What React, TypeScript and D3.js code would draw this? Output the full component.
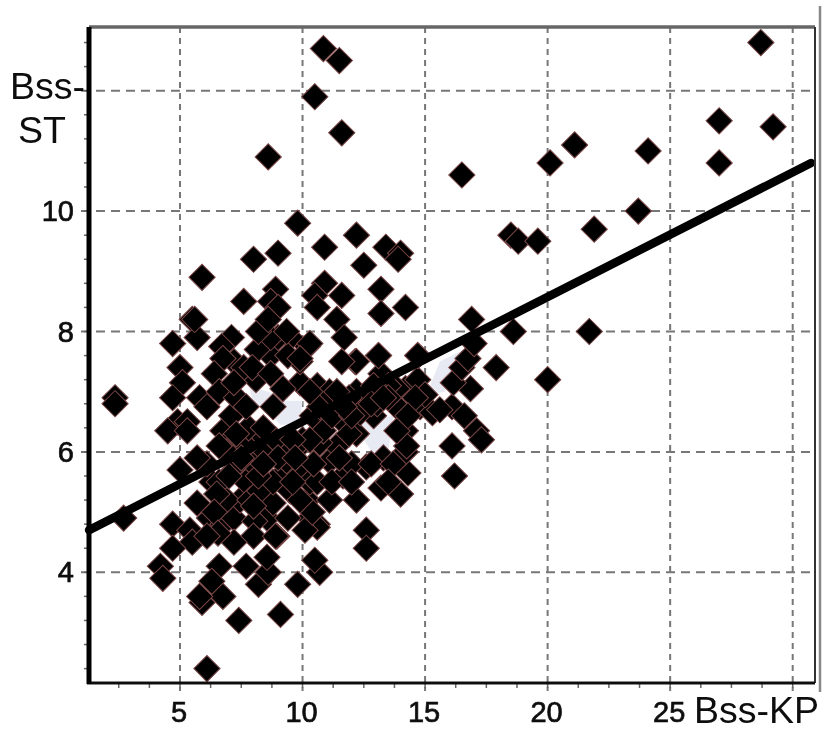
import React from "react";
import * as d3 from "d3";

const xTicks = [5, 10, 15, 20, 25, 30];
const xTickLabels = ["5", "10", "15", "20", "25"];
const yTicks = [4, 6, 8, 10, 12];
const yTickLabels = ["4", "6", "8", "10"];

const outliers: number[][] = [
  [10.85,12.7],[11.5,12.5],[10.5,11.9],[11.6,11.3],[8.6,10.9],[16.5,10.6],[20.1,10.8],[21.1,11.1],[24.1,11],
  [27,11.5],[27,10.8],[29.2,11.4],[28.7,12.8],[23.7,10],[21.9,9.7],[18.5,9.6],[18.8,9.5],[19.6,9.5],[20,7.2],
  [17.9,7.4],[21.7,8],[18.6,8],[16.9,8.2],[2.35,6.9],[2.35,6.8],[2.7,4.9],
];
const upperPoints: number[][] = [
  [9.8,9.8],[10.9,9.4],[12.2,9.6],[13.4,9.4],[14,9.3],[13.9,9.2],[12.5,9.1],[9,9.3],[8,9.2],[5.9,8.9],[13.2,8.7],
  [10.9,8.8],[10.5,8.6],[11.6,8.6],[8.9,8.7],[7.6,8.5],[14.2,8.4],[10.6,8.4],[13.2,8.3],[8.7,8.5],[11.4,8.2],
  [5.6,8.2],[9,8.4],[8.6,8.2],[11.7,7.9],[12.2,7.5],[11.6,7.5],[13.1,7.6],[14.7,7.6],[11.4,7.0],[10.3,7.0],
];
const leftPoints: number[][] = [
  [5.5,8.2],[5.7,7.9],[4.7,7.8],[5,7.4],[5.1,7.15],[4.7,6.9],[5.8,6.9],[6.1,6.75],[4.9,6.5],[5.3,6.5],[7.1,7.9],
  [6.7,7.75],[6.75,7.55],[6.4,7.3],[6.6,7],[7.3,6.9],[7.2,7.15],[8.15,7.7],[7.95,7.4],[8.7,7.9],[9.35,8],
  [10.3,7.8],[9.9,7.55],[8.7,7.3],[9.2,7.05],[8.8,6.75],[7.7,6.75],[8.2,8],[4.5,6.35],[5.3,6.35],[5.7,5.9],
  [5,5.7],[4.7,4.8],[5.4,4.7],[5.5,4.5],[4.7,4.4],[4.2,4.1],[4.3,3.9],[6.6,4.1],[6.3,3.85],[5.9,3.5],[6.1,2.4],
  [6.75,3.6],[7.4,3.2],[5.8,3.6],[7.7,4.1],[8.2,3.8],[9.1,3.3],[9.8,3.8],[10.7,4],[10.5,4.2],[8.6,4],[8.55,4.25],
  [8.9,4.6],[7.2,4.5],[6.55,4.65],[6.1,4.6],
];
const clusterPoints: number[][] = [
  [6.75,6.35],[7.2,6.25],[5.7,5.15],[6.3,5.5],[6.2,4.9],[6.75,4.8],[7.2,4.9],[7.45,5.2],[6.9,5.2],[6.6,5.5],
  [7.2,5.7],[7.7,5.5],[7.85,5.2],[8.55,4.9],[8.8,5.15],[8.25,5.35],[8.8,5.5],[9.5,5.35],[10.2,5.2],[10.3,4.9],
  [10.6,4.8],[10.6,4.75],[8.05,4.85],[8.95,4.6],[10.1,4.7],[9.35,5.7],[8,5.8],[7.45,5.85],[10,5.75],[10.3,5.5],
  [11.1,5.2],[10.4,5],[9.9,5.2],[10.6,5.5],[11.65,5.6],[12.6,5.75],[12,5.8],[13.2,5.4],[14,5.3],[14.3,5.65],
  [13.3,5.9],[14.2,6],[11.1,5.85],[10.45,5.8],[12.2,6.3],[11.4,6.1],[10.7,6.15],[9.9,6.1],[9.35,5.85],[11.65,6.5],
  [10.85,6.35],[10,6.2],[12.9,6.6],[13.85,6.75],[14.2,6.35],[14.25,6.1],[14.8,6.75],[15.3,6.65],[16.1,6.75],
  [16.6,6.6],[17.1,6.35],[17.3,6.2],[16.1,6.1],[16.2,5.6],[16.85,7.05],[16.15,7.15],[16.5,7.4],[16.75,7.55],
  [17,7.8],[14.7,7.6],[13.1,7.6],[12.15,7.5],[13.2,7.3],[12.2,7],[11.4,6.95],[10.6,7.1],[9.9,7.15],[10.2,7.75],
  [9.5,7.9],[9.9,7.5],[14.2,7.05],[14.7,7.2],[13.85,7.05],[15,6.95],[13.05,6.8],[12.35,6.65],[13.85,6.35],
  [9.2,6.1],[8.1,6.2],[8.5,6],[7.7,6.1],[8.9,6.2],[10.4,6.6],[10.7,6.75],[11.2,6.6],
  [7.8,6.4],[7.1,6.6],[7.3,6.3],[8.4,6.4],[9,5.9],[9.6,5.5],[8.2,5.6],[6.9,6],[6.1,5.8],[6.5,5.3],[8,4.6],
  [9.4,4.9],[12.7,6.95],[13.5,7.1],[15.6,6.7],[14.6,6.9],[11.9,6.3],[12.8,5.8],[13.7,5.8],
  [11.2,5.5],[12.2,5.2],[12.6,4.7],[12.6,4.4],
  [11.9,6.9],[11.1,7],[12,6.6],[12.9,7.1],[10.3,6.2],[11.5,5.9],[13.5,6.9],[14.3,6.6],[13.5,5.5],[8,5.1],[7,5.6],
  [6.6,6.1],[7.5,5.9],[8.4,5.8],[9.6,6.2],[9.7,5.9],[12,5.5],[12.8,6.8],[8.1,7.2],[8.7,7.6],[9,7.9],[9.4,7.6],
  [6.4,5],[7.2,7.5],[7.6,7.4],[11.7,6.75],[13.3,6.9],
];
const regressionLine: number[][] = [[1.29,4.7],[30.75,10.8]];
const patches: number[][][] = [
  [[7.8,7.1],[8.6,7],[9.3,6.85],[10,6.85],[9.9,6.45],[9.1,6.45],[8.5,6.7],[8,6.8]],
  [[12.4,6.5],[13.7,6.6],[13.5,6],[12.9,5.95],[12.5,6.2]],
  [[16.6,7.7],[15.6,7.5],[15.2,7.1],[15.1,6.95],[15.8,7],[16.2,7.35]],
];

const xScale = d3.scaleLinear().domain([5, 30]).range([180, 792.7]);
const yScale = d3.scaleLinear().domain([4, 12]).range([572.3, 90.7]);
const left = 89, right = 815, top = 27, bottom = 683;
const xMinor = d3.range(1.25 + 1.25 * 1, 31, 1.25).filter((v) => xScale(v) > left + 5 && xScale(v) < right);
const yMinor = d3.range(2.4, 13, 0.4);

const font = "'Liberation Sans', Arial, sans-serif";
const diamond = d3.symbol().type(d3.symbolSquare).size(345)() as string;
const allPoints = [...clusterPoints, ...leftPoints, ...upperPoints, ...outliers];
const linePath = d3.line().x((d) => xScale(d[0])).y((d) => yScale(d[1]));
const patchPath = d3.line().x((d) => xScale(d[0])).y((d) => yScale(d[1])).curve(d3.curveLinearClosed);

export default function App() {
  const num = { fontFamily: font, fontSize: 29, fill: "#111", stroke: "#111", strokeWidth: 0.7 };
  const lab = { fontFamily: font, fontSize: 37.5, fill: "#111" };
  return (
    <svg width={826} height={736} style={{ position: "absolute", left: 0, top: 0, background: "#fff" }}>
      <defs>
        <filter id="soft" x="-2%" y="-2%" width="104%" height="104%">
          <feGaussianBlur stdDeviation="0.5" />
        </filter>
      </defs>
      <g filter="url(#soft)">
        {xTicks.map((t) => (
          <line key={t} x1={xScale(t)} x2={xScale(t)} y1={top} y2={bottom + 8} stroke="#777" strokeWidth={2} strokeDasharray="6 5" />
        ))}
        {yTicks.map((t) => (
          <line key={t} x1={left - 8} x2={right} y1={yScale(t)} y2={yScale(t)} stroke="#777" strokeWidth={2} strokeDasharray="9 6" />
        ))}
        {xMinor.map((v) => (
          <line key={v} x1={xScale(v)} x2={xScale(v)} y1={bottom} y2={bottom + 5} stroke="#666" strokeWidth={1.5} />
        ))}
        {yMinor.map((v) => (
          <line key={v} x1={left - 5} x2={left} y1={yScale(v)} y2={yScale(v)} stroke="#666" strokeWidth={1.5} />
        ))}
        {patches.map((p, i) => (
          <path key={i} d={patchPath(p as any) as string} fill="#e8eaf3" />
        ))}
        {allPoints.map((d, i) => (
          <path key={i} d={diamond} transform={`translate(${xScale(d[0])},${yScale(d[1])}) rotate(45)`} fill="#000" stroke="#7a4646" strokeWidth={1} />
        ))}
        <path d={linePath(regressionLine as any) as string} stroke="#000" strokeWidth={8.5} fill="none" strokeLinecap="round" />
        <line x1={left} x2={right} y1={top} y2={top} stroke="#666" strokeWidth={3.5} />
        <line x1={right} x2={right} y1={top} y2={bottom} stroke="#333" strokeWidth={2} />
        <line x1={left - 2} x2={right} y1={bottom} y2={bottom} stroke="#111" strokeWidth={3} />
        <line x1={left} x2={left} y1={top} y2={bottom + 1} stroke="#000" strokeWidth={5} />
        <line x1={820} x2={820} y1={6} y2={692} stroke="#888" strokeWidth={2.5} />
        {xTickLabels.map((t, i) => (
          <text key={t} x={xScale(xTicks[i]) - 1} y={722} textAnchor="middle" {...num}>{t}</text>
        ))}
        {yTickLabels.map((t, i) => (
          <text key={t} x={74} y={yScale(yTicks[i]) + 10} textAnchor="end" {...num}>{t}</text>
        ))}
        <text x={10} y={99} {...lab}>Bss-</text>
        <text x={18} y={143} {...lab}>ST</text>
        <text x={694} y={723} {...lab}>Bss-KP</text>
      </g>
    </svg>
  );
}
